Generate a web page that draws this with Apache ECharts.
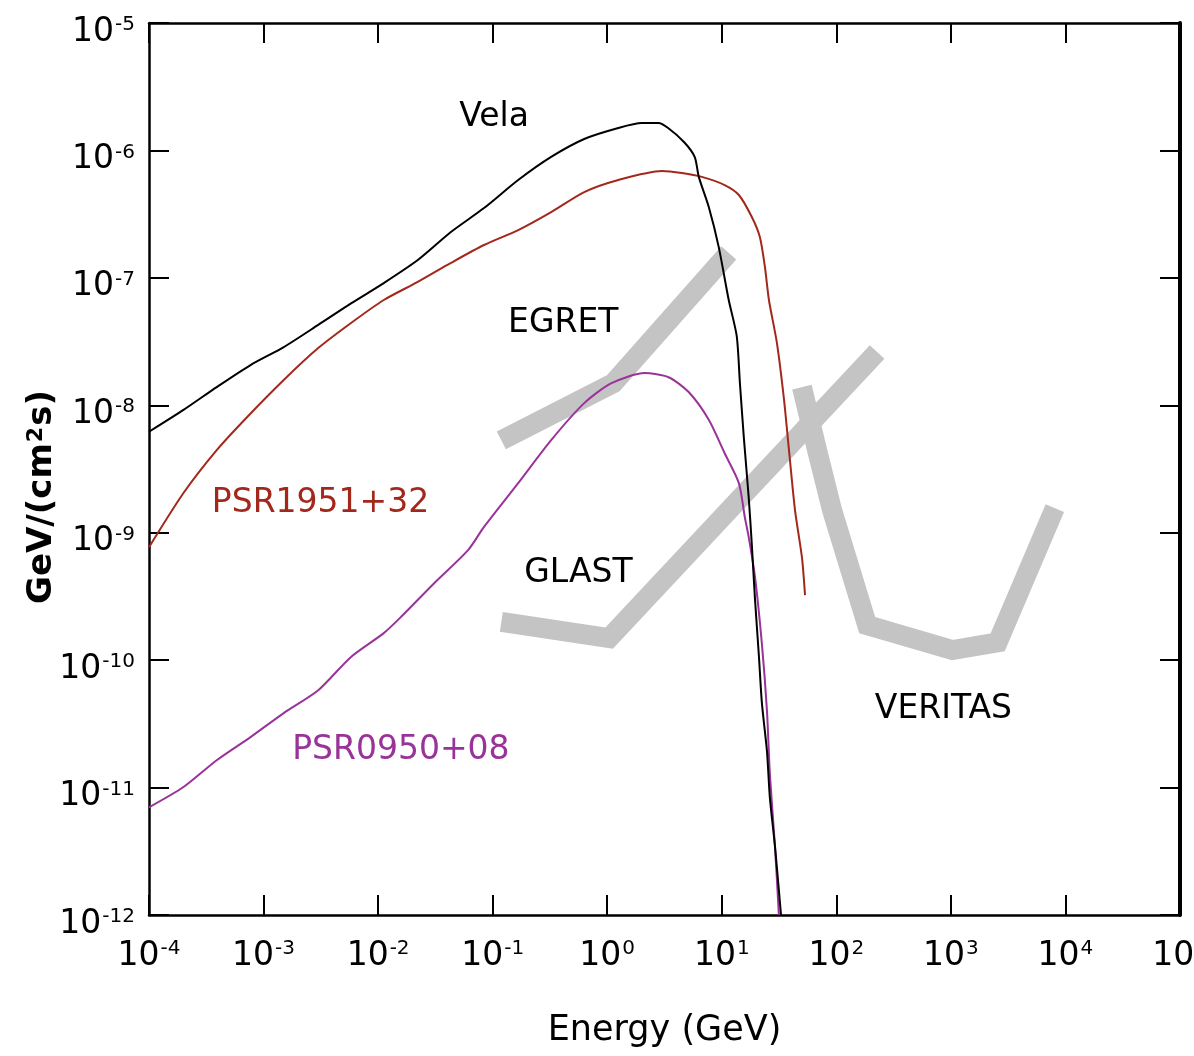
<!DOCTYPE html>
<html>
<head>
<meta charset="utf-8">
<script src="https://cdn.jsdelivr.net/npm/echarts@6/dist/echarts.min.js"></script>
<style>
  html, body { margin: 0; padding: 0; background: #fff; }
  #chart { width: 1194px; height: 1056px; }
</style>
</head>
<body>
<div id="chart"></div>
<script>
// Pulsar spectra: energy (GeV) vs. E^2 dN/dE in GeV/(cm^2 s)
const velaE = [1e-4, 2.0e-4, 3.9e-4, 7.7e-4, 1.5e-3, 3.0e-3, 5.8e-3, 0.0112, 0.0222, 0.0432, 0.084, 0.167, 0.324, 0.63, 1.25, 2.0, 2.8, 3.4, 4.7, 5.8, 6.3, 7.7, 9.4, 11.5, 13.5, 14.4, 15.6, 17.2, 18.3, 19.5, 21.1, 22.4, 24.8, 26.3, 29.1, 32.9];
const velaF = [6.2e-9, 9.2e-9, 1.39e-8, 2.07e-8, 2.86e-8, 4.27e-8, 6.3e-8, 9.1e-8, 1.38e-7, 2.29e-7, 3.53e-7, 5.86e-7, 8.9e-7, 1.23e-6, 1.50e-6, 1.64e-6, 1.64e-6, 1.50e-6, 1.16e-6, 8.9e-7, 6.2e-7, 3.6e-7, 1.75e-7, 6.7e-8, 3.5e-8, 1.49e-8, 5.5e-9, 1.87e-9, 8.0e-10, 3.0e-10, 1.07e-10, 4.6e-11, 1.93e-11, 8.3e-12, 3.5e-12, 1.0e-12];

const psr1951E = [1e-4, 2.0e-4, 3.9e-4, 7.2e-4, 1.5e-3, 3.0e-3, 5.8e-3, 0.0112, 0.0222, 0.0432, 0.084, 0.167, 0.324, 0.63, 1.25, 3.0, 4.5, 6.7, 10.6, 14.1, 18.3, 21.5, 23.8, 25.8, 30.3, 34.9, 38.6, 43.6, 50.1, 53.3];
const psr1951F = [7.7e-10, 2.05e-9, 4.45e-9, 8.1e-9, 1.58e-8, 2.81e-8, 4.42e-8, 6.7e-8, 9.3e-8, 1.31e-7, 1.81e-7, 2.37e-7, 3.28e-7, 4.71e-7, 5.86e-7, 6.9e-7, 6.65e-7, 6.2e-7, 5.35e-7, 4.47e-7, 3.0e-7, 2.09e-7, 1.22e-7, 6.7e-8, 3.08e-8, 1.12e-8, 4.45e-9, 1.50e-9, 6.4e-10, 3.24e-10];

const psr0950E = [1e-4, 2.0e-4, 3.9e-4, 7.7e-4, 1.5e-3, 3.0e-3, 5.8e-3, 0.0112, 0.0158, 0.0307, 0.061, 0.084, 0.167, 0.324, 0.63, 1.09, 2.12, 3.43, 5.14, 7.7, 10.6, 14.1, 15.9, 17.2, 19.5, 22.4, 24.8, 26.3, 29.1, 31.5];
const psr0950F = [7.0e-12, 1.01e-11, 1.64e-11, 2.49e-11, 3.84e-11, 5.8e-11, 1.06e-10, 1.63e-10, 2.18e-10, 4.0e-10, 7.3e-10, 1.11e-9, 2.45e-9, 5.33e-9, 1.04e-8, 1.49e-8, 1.79e-8, 1.66e-8, 1.27e-8, 7.7e-9, 4.2e-9, 2.45e-9, 1.32e-9, 9.2e-10, 4.5e-10, 1.34e-10, 4.0e-11, 1.27e-11, 3.5e-12, 1.0e-12];

// Instrument sensitivity bands
const egretE = [0.119, 1.13, 11.5];
const egretF = [5.3e-9, 1.49e-8, 1.57e-7];
const glastE = [0.119, 1.04, 227];
const glastF = [2.0e-10, 1.49e-10, 2.62e-8];
const veritasE = [50.1, 67.9, 91.8, 186, 1033, 2560, 8080];
const veritasF = [1.39e-8, 4.45e-9, 1.5e-9, 1.88e-10, 1.2e-10, 1.38e-10, 1.56e-9];

// Text annotations (name, energy, flux, colour key)
const labelNames = ['Vela', 'EGRET', 'PSR1951+32', 'GLAST', 'PSR0950+08', 'VERITAS'];
const labelE = [0.103, 0.413, 3.14e-3, 0.56, 0.0158, 861];
const labelF = [1.8e-6, 4.42e-8, 1.71e-9, 4.82e-10, 1.97e-11, 4.12e-11];
const labelColorKeys = ['black', 'black', 'red', 'black', 'purple', 'black'];

const xTickMin = 1e-4, xTickMax = 1e5;
const yTickMin = 1e-12, yTickMax = 1e-5;

const COLORS = { black: '#000000', red: '#a3281c', purple: '#993399', band: '#c4c4c4' };
const FONT = 'DejaVu Sans';

const zip = (a, b) => a.map((v, i) => [v, b[i]]);

function powLabel(v) {
  const e = Math.round(Math.log10(v));
  return '{b|10}{e|' + e + '}';
}
const labelRich = {
  b: { fontFamily: FONT, fontSize: 33, color: '#000' },
  e: { fontFamily: FONT, fontSize: 20, color: '#000', verticalAlign: 'top', padding: [0, 0, 14, 1] }
};

const chart = echarts.init(document.getElementById('chart'), null, { renderer: 'canvas' });

const bandSeries = (name, xs, ys) => ({
  name, type: 'line', data: zip(xs, ys), symbol: 'none', silent: true, z: 1,
  lineStyle: { color: COLORS.band, width: 20, cap: 'butt', join: 'miter' }
});
const curveSeries = (name, xs, ys, color) => ({
  name, type: 'line', data: zip(xs, ys), symbol: 'none', z: 3, smooth: 0.25,
  lineStyle: { color, width: 2 }
});

const axisLineStyle = { color: '#000', width: 2.5 };

chart.setOption({
  animation: false,
  backgroundColor: '#fff',
  grid: { left: 149, right: 14, top: 23, bottom: 141, containLabel: false, outerBoundsMode: 'none' },
  xAxis: [
    {
      type: 'log', logBase: 10, min: xTickMin, max: xTickMax, splitNumber: 9,
      position: 'bottom',
      name: 'Energy (GeV)', nameLocation: 'middle', nameGap: 98,
      nameTextStyle: { fontFamily: FONT, fontSize: 35, color: '#000' },
      axisLine: { lineStyle: axisLineStyle },
      axisTick: { inside: true, length: 20, lineStyle: { color: '#000', width: 2 } },
      minorTick: { show: false },
      splitLine: { show: false },
      axisLabel: { formatter: powLabel, rich: labelRich, margin: 24, showMinLabel: true, showMaxLabel: true, hideOverlap: false }
    },
    {
      type: 'log', logBase: 10, min: xTickMin, max: xTickMax, splitNumber: 9,
      position: 'top',
      axisLine: { lineStyle: axisLineStyle },
      axisTick: { inside: true, length: 20, lineStyle: { color: '#000', width: 2 } },
      splitLine: { show: false },
      axisLabel: { show: false }
    }
  ],
  yAxis: [
    {
      type: 'log', logBase: 10, min: yTickMin, max: yTickMax, splitNumber: 7,
      position: 'left',
      axisLine: { lineStyle: axisLineStyle },
      axisTick: { inside: true, length: 20, lineStyle: { color: '#000', width: 2 } },
      splitLine: { show: false },
      axisLabel: { formatter: powLabel, rich: labelRich, margin: 14, padding: [18, 0, 0, 0], showMinLabel: true, showMaxLabel: true }
    },
    {
      type: 'log', logBase: 10, min: yTickMin, max: yTickMax, splitNumber: 7,
      position: 'right',
      axisLine: { lineStyle: { color: '#000', width: 4 } },
      axisTick: { inside: true, length: 20, lineStyle: { color: '#000', width: 2 } },
      splitLine: { show: false },
      axisLabel: { show: false }
    }
  ],
  graphic: [
    {
      type: 'text', x: 42, y: 497, rotation: Math.PI / 2, z: 10,
      style: {
        text: '{t|GeV/(cm}{s|2}{t|s)}',
        align: 'center', verticalAlign: 'middle',
        rich: {
          t: { fontFamily: FONT, fontSize: 34, fontWeight: 'bold', fill: '#000' },
          s: { fontFamily: FONT, fontSize: 22, fontWeight: 'bold', fill: '#000', verticalAlign: 'top', padding: [0, 1, 12, 1] }
        }
      }
    }
  ],
  series: [
    bandSeries('EGRET', egretE, egretF),
    bandSeries('GLAST', glastE, glastF),
    bandSeries('VERITAS', veritasE, veritasF),
    curveSeries('PSR0950+08', psr0950E, psr0950F, COLORS.purple),
    curveSeries('PSR1951+32', psr1951E, psr1951F, COLORS.red),
    curveSeries('Vela', velaE, velaF, COLORS.black),
    {
      name: 'labels', type: 'scatter', symbolSize: 0, z: 5, silent: true,
      itemStyle: { opacity: 1 },
      data: labelNames.map((n, i) => ({
        name: n, value: [labelE[i], labelF[i]],
        label: { color: COLORS[labelColorKeys[i]] }
      })),
      label: {
        show: true, position: 'inside', formatter: p => p.name, opacity: 1,
        fontFamily: FONT, fontSize: 33
      }
    }
  ]
});
</script>
</body>
</html>
